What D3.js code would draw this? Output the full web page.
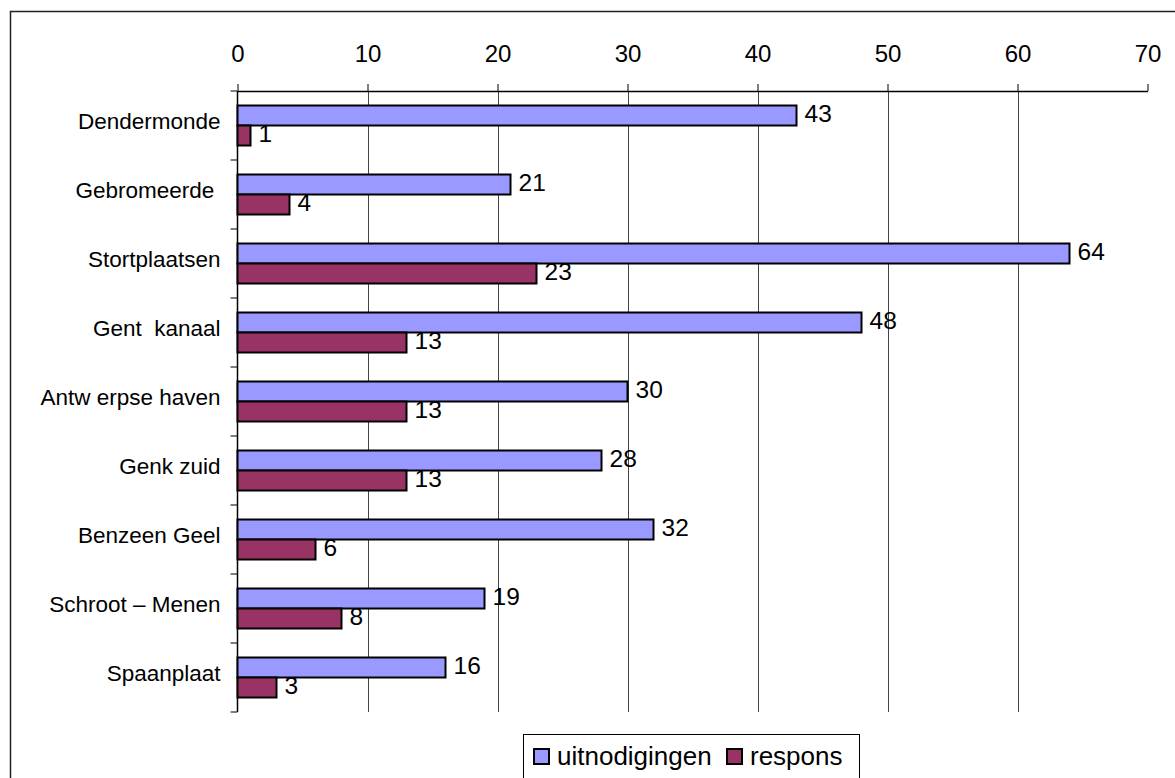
<!DOCTYPE html>
<html>
<head>
<meta charset="utf-8">
<script src="https://cdn.jsdelivr.net/npm/d3@7"></script>
<style>
  html, body { margin: 0; padding: 0; background: #fff; }
  svg { display: block; }
  text { font-family: Arial, "Liberation Sans", sans-serif; fill: #000; }
</style>
</head>
<body>
<svg id="chart" width="1175" height="778"></svg>
<script>
// Sites and counts: invitations sent vs. responses received
const categories = ["Dendermonde", "Gebromeerde ", "Stortplaatsen", "Gent  kanaal", "Antw erpse haven",
                    "Genk zuid", "Benzeen Geel", "Schroot – Menen", "Spaanplaat"];
const uitnodigingen = [43, 21, 64, 48, 30, 28, 32, 19, 16];
const respons = [1, 4, 23, 13, 13, 13, 6, 8, 3];
const seriesNames = ["uitnodigingen", "respons"];
const xTicks = [0, 10, 20, 30, 40, 50, 60, 70];

const colors = { uitnodigingen: "#9999FF", respons: "#993366" };

const svg = d3.select("#chart");

// outer frame (extends past the right and bottom edges)
svg.append("rect")
  .attr("x", 10.5).attr("y", 11.5)
  .attr("width", 1200).attr("height", 800)
  .attr("fill", "none").attr("stroke", "#222").attr("stroke-width", 1.5);

const plot = { left: 237.5, right: 1147.5, top: 91, bottom: 712 };

const x = d3.scaleLinear().domain([0, 70]).range([plot.left, plot.right]);
const y = d3.scaleBand().domain(categories).range([plot.top, plot.bottom]).paddingInner(0).paddingOuter(0);
const ySub = d3.scaleBand().domain(seriesNames).range([0, y.bandwidth()]).paddingInner(0).paddingOuter(0.725);

// vertical gridlines
svg.append("g")
  .selectAll("line")
  .data(xTicks.filter(t => t > 0 && t < 70))
  .join("line")
  .attr("x1", d => Math.round(x(d)) + 0.5).attr("x2", d => Math.round(x(d)) + 0.5)
  .attr("y1", plot.top).attr("y2", plot.bottom)
  .attr("stroke", "#444").attr("stroke-width", 1);

// top value axis
const xAxis = svg.append("g")
  .attr("transform", `translate(0,${plot.top})`)
  .call(d3.axisTop(x).tickValues(xTicks).tickSize(7).tickSizeOuter(0).tickPadding(22).tickFormat(d3.format("d")));
xAxis.select(".domain").attr("stroke", "#000").attr("stroke-width", 1.5);
xAxis.selectAll(".tick line").attr("stroke", "#000");
xAxis.selectAll(".tick text").attr("font-size", 24).style("font-family", "Arial, 'Liberation Sans', sans-serif");

// left category axis: boundary tick marks and labels
const boundaries = categories.map(c => y(c)).concat([plot.bottom]);
svg.append("g")
  .selectAll("line")
  .data(boundaries)
  .join("line")
  .attr("x1", plot.left - 7).attr("x2", plot.left)
  .attr("y1", d => d).attr("y2", d => d)
  .attr("stroke", "#000").attr("stroke-width", 1);
svg.append("line")
  .attr("x1", plot.left).attr("x2", plot.left)
  .attr("y1", plot.top).attr("y2", plot.bottom)
  .attr("stroke", "#000").attr("stroke-width", 1.5);

svg.append("g")
  .selectAll("text")
  .data(categories)
  .join("text")
  .attr("x", plot.left - 17)
  .attr("y", d => y(d) + y.bandwidth() / 2 - 2)
  .attr("text-anchor", "end")
  .attr("dominant-baseline", "middle")
  .attr("font-size", 22.5)
  .style("white-space", "pre")
  .attr("xml:space", "preserve")
  .text(d => d);

// bars
const rows = categories.map((c, i) => ({ cat: c, values: [
  { key: "uitnodigingen", value: uitnodigingen[i] },
  { key: "respons", value: respons[i] }
]}));

const groups = svg.append("g")
  .selectAll("g")
  .data(rows)
  .join("g")
  .attr("transform", d => `translate(0,${y(d.cat)})`);

groups.selectAll("rect")
  .data(d => d.values)
  .join("rect")
  .attr("x", x(0))
  .attr("y", d => ySub(d.key))
  .attr("width", d => x(d.value) - x(0))
  .attr("height", ySub.bandwidth())
  .attr("fill", d => colors[d.key])
  .attr("stroke", "#000").attr("stroke-width", 2);

groups.selectAll("text")
  .data(d => d.values)
  .join("text")
  .attr("x", d => x(d.value) + 8)
  .attr("y", d => ySub(d.key) + ySub.bandwidth() / 2)
  .attr("dominant-baseline", "middle")
  .attr("font-size", 24.5)
  .text(d => d.value);

// legend
const legend = svg.append("g");
legend.append("rect")
  .attr("x", 523.5).attr("y", 734.5).attr("width", 336).attr("height", 60)
  .attr("fill", "#fff").attr("stroke", "#000").attr("stroke-width", 1);
const legendX = [534, 727];
seriesNames.forEach((name, i) => {
  legend.append("rect")
    .attr("x", legendX[i]).attr("y", 749).attr("width", 15).attr("height", 15)
    .attr("fill", colors[name]).attr("stroke", "#000").attr("stroke-width", 2);
  legend.append("text")
    .attr("x", legendX[i] + 23).attr("y", 765)
    .attr("font-size", 26)
    .text(name);
});
</script>
</body>
</html>
